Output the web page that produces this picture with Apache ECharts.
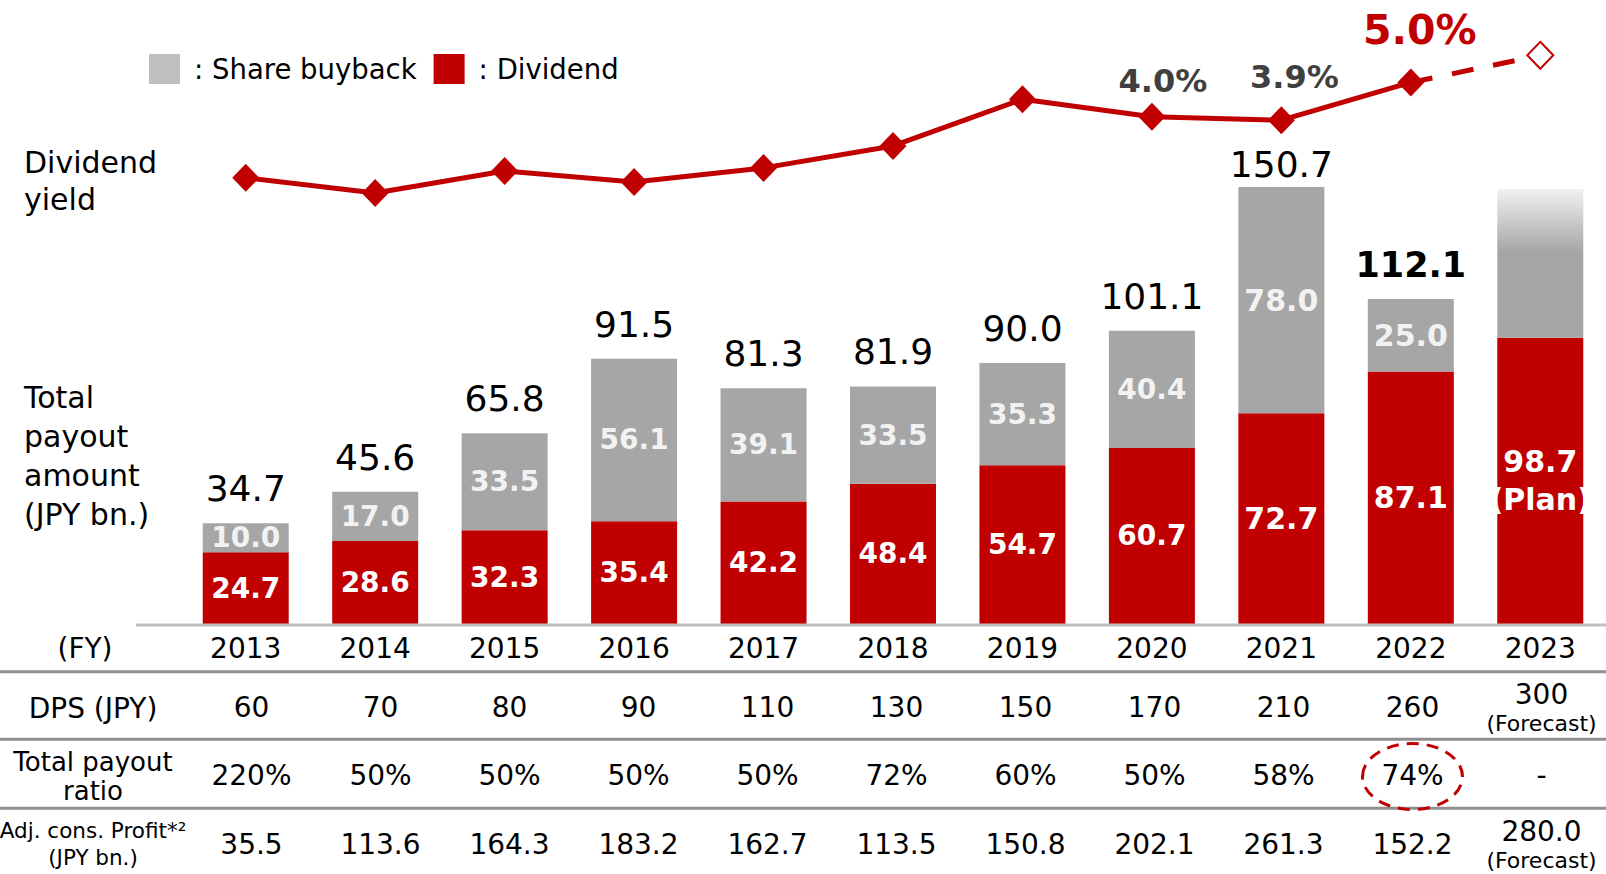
<!DOCTYPE html>
<html>
<head>
<meta charset="utf-8">
<script src="https://cdn.jsdelivr.net/npm/echarts@6/dist/echarts.min.js"></script>
<style>
  html, body { margin: 0; padding: 0; background: #fff; }
  #chart { width: 1606px; height: 874px; }
</style>
</head>
<body>
<div id="chart"></div>
<script>
// --- data ---
const years = ["2013", "2014", "2015", "2016", "2017", "2018", "2019", "2020", "2021", "2022", "2023"];
const dividend = [24.7, 28.6, 32.3, 35.4, 42.2, 48.4, 54.7, 60.7, 72.7, 87.1, 98.7];
const buyback = [10.0, 17.0, 33.5, 56.1, 39.1, 33.5, 35.3, 40.4, 78.0, 25.0, 51.3]; // 2023 = undecided (estimated bar height)
const dividendYield = [2.22, 1.78, 2.42, 2.10, 2.51, 3.15, 4.51, 4.0, 3.9, 5.0, 5.79];
const yieldLabelYears = ["2020", "2021", "2022"];
const dps = ["60", "70", "80", "90", "110", "130", "150", "170", "210", "260", "300"];
const payoutRatio = ["220%", "50%", "50%", "50%", "50%", "72%", "60%", "50%", "58%", "74%", "-"];
const adjProfit = ["35.5", "113.6", "164.3", "183.2", "162.7", "113.5", "150.8", "202.1", "261.3", "152.2", "280.0"];

const FONT = "'DejaVu Sans', Verdana, sans-serif";
const RED = "#C00000";
const GRAY = "#A6A6A6";
const LAST = years.length - 1;

const chart = echarts.init(document.getElementById("chart"), null, { renderer: "svg" });

// totals shown above the finished years only
const totals = years.map((y, i) => (i < LAST ? Math.round((dividend[i] + buyback[i]) * 10) / 10 : "-"));

// label placement for the highlighted yield points
const yieldLabelStyle = {
  "2020": { offset: [11, -36], color: "#404040", fontSize: 32 },
  "2021": { offset: [13, -43], color: "#404040", fontSize: 32 },
  "2022": { offset: [9, -52], color: RED, fontSize: 41 }
};

const text = (str, x, y, size, extra = {}) => ({
  type: "text",
  x,
  y,
  silent: true,
  style: Object.assign(
    {
      text: str,
      fontSize: size,
      fontFamily: FONT,
      fill: "#000",
      align: "center",
      verticalAlign: "middle",
      textAlign: "center",
      textVerticalAlign: "middle"
    },
    extra
  )
});

const hLine = (y, x, w, color) => ({
  type: "rect",
  silent: true,
  z: 10,
  shape: { x, y: y - 1.5, width: w, height: 3 },
  style: { fill: color }
});

const tableAxis = (values, offset, note) => ({
  gridIndex: 1,
  type: "category",
  position: "bottom",
  offset,
  data: years,
  axisLine: { show: false, onZero: false },
  axisTick: { show: false },
  splitLine: { show: false },
  axisLabel: {
    interval: 0,
    margin: 0,
    verticalAlign: "middle",
    fontFamily: FONT,
    fontSize: 28,
    color: "#000",
    formatter: (v, i) => (note && i === LAST ? `{v|${values[i]}}\n{n|(${note})}` : values[i]),
    rich: {
      v: { fontFamily: FONT, fontSize: 28, lineHeight: 32, color: "#000" },
      n: { fontFamily: FONT, fontSize: 22, lineHeight: 26, color: "#000" }
    }
  }
});

chart.setOption({
  animation: false,
  backgroundColor: "#fff",
  textStyle: { fontFamily: FONT },
  legend: {
    left: 144,
    top: 49,
    icon: "rect",
    itemWidth: 31,
    itemHeight: 30,
    itemGap: 17,
    selectedMode: false,
    data: [
      { name: "Share buyback", itemStyle: { color: "#BFBFBF" } },
      { name: "Dividend", itemStyle: { color: RED } }
    ],
    formatter: (n) => ": " + n,
    textStyle: { fontFamily: FONT, fontSize: 27.5, color: "#000", padding: [0, 0, 0, 9] }
  },
  grid: [
    { left: 181, right: 1, top: 44, bottom: 250, outerBoundsMode: "none" },
    { left: 187, right: 0, top: 600, height: 72, outerBoundsMode: "none" }
  ],
  xAxis: [
    {
      gridIndex: 0,
      type: "category",
      data: years,
      axisLine: { show: false },
      axisTick: { show: false },
      axisLabel: {
        interval: 0,
        margin: 24,
        verticalAlign: "middle",
        fontFamily: FONT,
        fontSize: 28,
        color: "#000"
      }
    },
    tableAxis(dps, 35, "Forecast"),
    tableAxis(payoutRatio, 103),
    tableAxis(adjProfit, 172, "Forecast")
  ],
  yAxis: [
    { gridIndex: 0, type: "value", min: 0, max: 200, show: false },
    { gridIndex: 0, type: "value", min: -10.78, max: 6.12, show: false },
    { gridIndex: 1, type: "value", show: false }
  ],
  series: [
    {
      name: "Dividend",
      type: "bar",
      stack: "payout",
      barWidth: 86,
      itemStyle: { color: RED },
      emphasis: { disabled: true },
      label: {
        show: true,
        position: "inside",
        color: "#fff",
        fontWeight: "bold",
        fontFamily: FONT,
        lineHeight: 38,
        formatter: (p) => (p.dataIndex === LAST ? p.value.toFixed(1) + "\n(Plan)" : p.value.toFixed(1))
      },
      data: dividend.map((v, i) => ({ value: v, label: { fontSize: i >= 8 ? 30 : 28 } }))
    },
    {
      name: "Share buyback",
      type: "bar",
      stack: "payout",
      barWidth: 86,
      itemStyle: { color: GRAY },
      emphasis: { disabled: true },
      label: {
        show: true,
        position: "inside",
        color: "#F2F2F2",
        fontWeight: "bold",
        fontFamily: FONT,
        formatter: (p) => p.value.toFixed(1)
      },
      data: buyback.map((v, i) =>
        i === LAST
          ? {
              value: v,
              label: { show: false },
              itemStyle: {
                color: new echarts.graphic.LinearGradient(0, 0, 0, 1, [
                  { offset: 0, color: "#F2F2F2" },
                  { offset: 0.42, color: GRAY },
                  { offset: 1, color: GRAY }
                ])
              }
            }
          : { value: v, label: { fontSize: i >= 8 ? 30 : 28 } }
      )
    },
    {
      name: "Total",
      type: "scatter",
      symbolSize: 1,
      itemStyle: { color: "rgba(0,0,0,0)", opacity: 1 },
      silent: true,
      z: 6,
      label: {
        show: true,
        position: "top",
        distance: 16,
        color: "#000",
        opacity: 1,
        fontFamily: FONT,
        fontSize: 36,
        lineHeight: 36,
        formatter: (p) => p.value.toFixed(1)
      },
      data: totals.map((v, i) => {
        if (i === 8) return { value: v, label: { distance: 4 } };
        if (i === 9) return { value: v, label: { fontWeight: "bold", fontSize: 35, lineHeight: 35 } };
        return v;
      })
    },
    {
      name: "Yield forecast",
      type: "line",
      yAxisIndex: 1,
      z: 4,
      showAllSymbol: true,
      symbol: "diamond",
      symbolSize: [26, 27],
      lineStyle: { color: RED, width: 5, type: [22, 20] },
      itemStyle: { color: "#fff", borderColor: RED, borderWidth: 2 },
      emphasis: { disabled: true },
      data: dividendYield.map((v, i) =>
        i < LAST - 1 ? "-" : i === LAST - 1 ? { value: v, symbol: "none" } : v
      )
    },
    {
      name: "Dividend yield",
      type: "line",
      yAxisIndex: 1,
      z: 5,
      showAllSymbol: true,
      symbol: "diamond",
      symbolSize: [27, 28],
      lineStyle: { color: RED, width: 5 },
      itemStyle: { color: RED },
      emphasis: { disabled: true },
      label: { show: false },
      data: dividendYield.map((v, i) => {
        if (i === LAST) return "-";
        const ls = yieldLabelYears.includes(years[i]) ? yieldLabelStyle[years[i]] : null;
        if (!ls) return v;
        return {
          value: v,
          label: {
            show: true,
            position: "inside",
            offset: ls.offset,
            color: ls.color,
            fontSize: ls.fontSize,
            fontWeight: "bold",
            fontFamily: FONT,
            formatter: (p) => p.value.toFixed(1) + "%"
          }
        };
      })
    }
  ],
  graphic: [
    hLine(625, 136, 1470, "#BFBFBF"),
    hLine(671.7, 0, 1606, "#8F8F8F"),
    hLine(739.3, 0, 1606, "#8F8F8F"),
    hLine(808.3, 0, 1606, "#8F8F8F"),
    text("Dividend\nyield", 24, 144, 30, { align: "left", textAlign: "left", verticalAlign: "top", textVerticalAlign: "top", lineHeight: 37 }),
    text("Total\npayout\namount\n(JPY bn.)", 24, 378, 30, { align: "left", textAlign: "left", verticalAlign: "top", textVerticalAlign: "top", lineHeight: 39 }),
    text("(FY)", 85, 648, 28),
    text("DPS (JPY)", 93, 708, 28),
    text("Total payout\nratio", 93, 776, 26, { lineHeight: 29 }),
    text("Adj. cons. Profit*²\n(JPY bn.)", 93, 843.5, 21.5, { lineHeight: 27 })
  ]
});

// dashed highlight round the 2022 payout ratio, placed through the table axis
const cx = chart.convertToPixel({ xAxisIndex: 2 }, "2022");
chart.setOption({
  graphic: [
    {
      id: "ratio-highlight",
      type: "ellipse",
      silent: true,
      z: 12,
      shape: { cx, cy: 776.5, rx: 50, ry: 33 },
      style: { fill: "none", stroke: RED, lineWidth: 3, lineDash: [12, 8] }
    }
  ]
});
</script>
</body>
</html>
